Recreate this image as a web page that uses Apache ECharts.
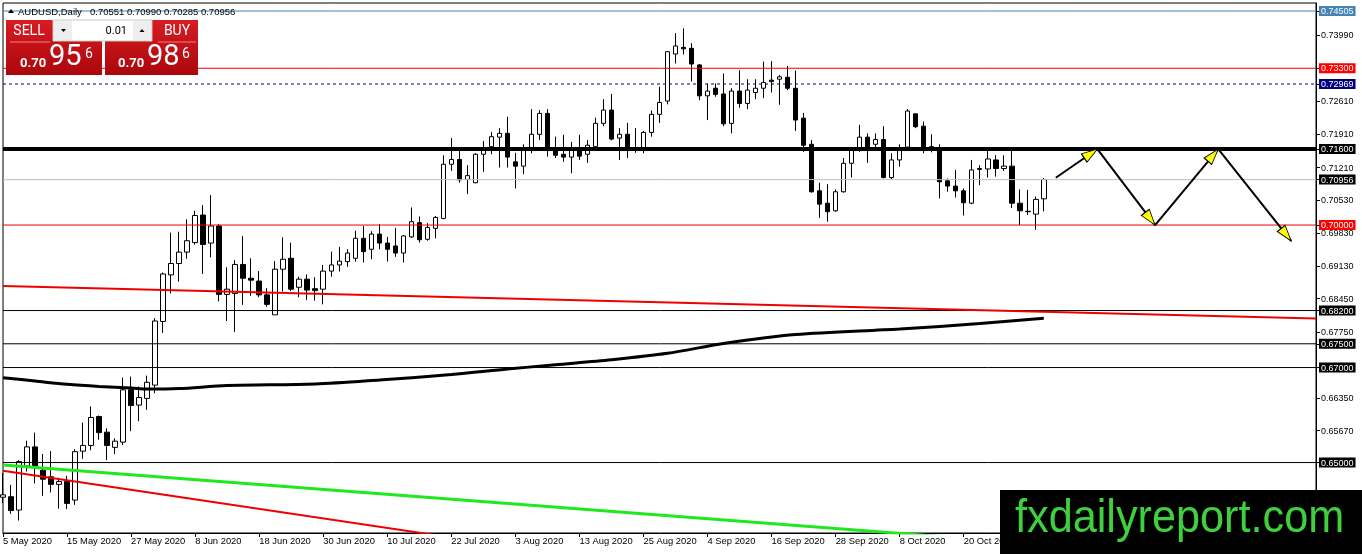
<!DOCTYPE html>
<html><head><meta charset="utf-8">
<script src="https://cdn.jsdelivr.net/npm/echarts@6/dist/echarts.min.js"></script>
<style>html,body{margin:0;padding:0;background:#fff}#c{width:1362px;height:554px}</style>
</head><body><div id="c"></div>
<script>
// ---- trading days (categories) ----
const mayDays=[5,6,7,8,11,12,13,14,15,18,19,20,21,22,25,26,27,28,29];
const junDays=[1,2,3,4,5,8,9,10,11,12,15,16,17,18,19,22,23,24,25,26,29,30];
const julDays=[1,2,3,6,7,8,9,10,13,14,15,16,17,20,21,22,23,24,27,28,29,30,31];
const augDays=[3,4,5,6,7,10,11,12,13,14,17,18,19,20,21,24,25,26,27,28,31];
const sepDays=[1,2,3,4,7,8,9,10,11,14,15,16,17,18,21,22,23,24,25,28,29,30];
const octDays=[1,2,5,6,7,8,9,12,13,14,15,16,19,20,21,22,23,26,27,28,29,30];
const novDays=[2,3,4,5,6,9,10,11,12,13,16,17,18,19,20,23,24,25,26,27,30];
const decDays=[1,2,3,4,7,8,9,10,11,14,15,16,17,18,21];

// ---- OHLC ----
const opens=[0.6427,0.6428,0.6400,0.6493,0.6533,0.6484,0.6470,0.6454,0.6460,0.6421,
0.6524,0.6536,0.6597,0.6564,0.6532,0.6543,0.6653,0.6621,0.6635,0.6663,
0.6797,0.6895,0.6919,0.6943,0.6963,0.7021,0.6962,0.6998,0.6854,0.6856,
0.6917,0.6888,0.6882,0.6853,0.6811,0.6907,0.6930,0.6869,0.6886,0.6866,
0.6865,0.6903,0.6916,0.6923,0.6930,0.6972,0.6949,0.6981,0.6962,0.6956,
0.6941,0.6975,0.7005,0.6970,0.6993,0.7014,0.7128,0.7138,0.7096,0.7089,
0.7149,0.7165,0.7185,0.7193,0.7133,0.7124,0.7158,0.7191,0.7235,0.7156,
0.7149,0.7143,0.7159,0.7149,0.7165,0.7214,0.7242,0.7183,0.7191,0.7163,
0.7163,0.7195,0.7233,0.7261,0.7360,0.7374,0.7372,0.7337,0.7272,0.7288,
0.7276,0.7214,0.7282,0.7256,0.7279,0.7288,0.7305,0.7307,0.7311,0.7288,
0.7225,0.7170,0.7072,0.7046,0.7030,0.7070,0.7130,0.7157,0.7185,0.7170,
0.7180,0.7100,0.7137,0.7164,0.7234,0.7208,0.7165,0.7162,0.7093,0.7082,
0.7072,0.7046,0.7117,0.7118,0.7137,0.7119,0.7124,0.7046,0.7029,0.7023,0.70551];
const highs=[0.6478,0.6453,0.6505,0.6546,0.6563,0.6518,0.6524,0.6468,0.6472,0.6528,
0.6584,0.6618,0.6599,0.6572,0.6551,0.6679,0.6681,0.6660,0.6683,0.6804,
0.6900,0.6984,0.6986,0.7012,0.7030,0.7042,0.7063,0.7002,0.6911,0.6926,
0.6977,0.6930,0.6903,0.6867,0.6924,0.6974,0.6963,0.6891,0.6896,0.6890,
0.6916,0.6944,0.6954,0.6949,0.6988,0.6998,0.6987,0.7002,0.6975,0.6994,
0.6979,0.7037,0.7018,0.7004,0.7019,0.7147,0.7183,0.7158,0.7126,0.7151,
0.7177,0.7196,0.7204,0.7228,0.7152,0.7170,0.7244,0.7242,0.7244,0.7186,
0.7190,0.7175,0.7190,0.7179,0.7226,0.7265,0.7276,0.7204,0.7215,0.7204,
0.7198,0.7241,0.7291,0.7366,0.7404,0.7414,0.7383,0.7339,0.7298,0.7298,
0.7319,0.7288,0.7326,0.7307,0.7307,0.7344,0.7345,0.7316,0.7335,0.7325,
0.7236,0.7179,0.7089,0.7086,0.7075,0.7141,0.7159,0.7211,0.7193,0.7193,
0.7208,0.7151,0.7170,0.7244,0.7235,0.7218,0.7191,0.7170,0.7098,0.7116,
0.7077,0.7137,0.7126,0.7158,0.7147,0.7147,0.7158,0.7075,0.7074,0.7060,0.70990];
const lows=[0.6415,0.6392,0.6378,0.6481,0.6456,0.6430,0.6437,0.6403,0.6402,0.6411,
0.6508,0.6526,0.6548,0.6505,0.6518,0.6537,0.6566,0.6587,0.6611,0.6646,
0.6773,0.6856,0.6881,0.6929,0.6959,0.6897,0.6932,0.6839,0.6798,0.6775,
0.6832,0.6851,0.6848,0.6828,0.6811,0.6860,0.6861,0.6848,0.6842,0.6841,
0.6833,0.6891,0.6902,0.6912,0.6923,0.6921,0.6928,0.6949,0.6923,0.6933,
0.6921,0.6973,0.6963,0.6967,0.6972,0.7012,0.7114,0.7089,0.7065,0.7088,
0.7112,0.7149,0.7121,0.7121,0.7077,0.7107,0.7151,0.7179,0.7144,0.7141,
0.7133,0.7109,0.7137,0.7131,0.7162,0.7208,0.7178,0.7137,0.7141,0.7152,
0.7151,0.7186,0.7215,0.7254,0.7340,0.7359,0.7302,0.7263,0.7221,0.7270,
0.7208,0.7193,0.7247,0.7244,0.7265,0.7267,0.7279,0.7253,0.7284,0.7198,
0.7154,0.7068,0.7015,0.7007,0.7028,0.7068,0.7100,0.7154,0.7131,0.7162,
0.7098,0.7096,0.7123,0.7162,0.7204,0.7151,0.7153,0.7056,0.7070,0.7058,
0.7020,0.7044,0.7084,0.7100,0.7102,0.7114,0.7036,0.7000,0.7021,0.6990,0.70285];
const closes=[0.6432,0.6399,0.6502,0.6533,0.6493,0.6465,0.6454,0.6460,0.6414,0.6523,
0.6536,0.6595,0.6563,0.6536,0.6545,0.6653,0.6620,0.6637,0.6669,0.6798,
0.6897,0.6919,0.6943,0.6967,0.7020,0.6959,0.6998,0.6854,0.6865,0.6917,
0.6888,0.6884,0.6853,0.6833,0.6907,0.6928,0.6865,0.6886,0.6863,0.6862,
0.6903,0.6916,0.6924,0.6941,0.6972,0.6944,0.6981,0.6962,0.6949,0.6941,
0.6977,0.7007,0.6969,0.6995,0.7016,0.7128,0.7138,0.7095,0.7104,0.7149,
0.7158,0.7186,0.7193,0.7143,0.7124,0.7159,0.7191,0.7235,0.7163,0.7147,
0.7143,0.7159,0.7145,0.7168,0.7214,0.7242,0.7181,0.7191,0.7162,0.7162,
0.7195,0.7233,0.7258,0.7365,0.7377,0.7371,0.7339,0.7272,0.7282,0.7275,
0.7213,0.7282,0.7256,0.7284,0.7288,0.7300,0.7302,0.7312,0.7288,0.7221,
0.7168,0.7070,0.7044,0.7028,0.7070,0.7130,0.7157,0.7185,0.7162,0.7180,
0.7100,0.7137,0.7158,0.7240,0.7207,0.7164,0.7163,0.7091,0.7082,0.7072,
0.7047,0.7116,0.7119,0.7139,0.7119,0.7124,0.7046,0.7030,0.7028,0.7054,0.70956];

// ---- moving average (read at sampled bars) ----
const maPoints=[[0,0.66785],[4,0.66716],[8,0.66646],[12,0.66600],[16,0.66568],[18,0.66547],
[22,0.66558],[28,0.66621],[39,0.66652],[47,0.66737],[56,0.66852],[63,0.66968],[69,0.67059],
[76,0.67164],[83,0.67299],[90,0.67505],[99,0.67694],[112,0.67810],[122,0.67926],[130,0.68036]];

// ---- drawn objects (bar index, price) ----
const redTrendUpper=[[0,0.68717],[164,0.68033]];
const redTrendLower=[[0,0.64827],[164,0.60715]];
const greenTrend=[[0,0.64949],[164,0.62841]];
const arrowPath=[[131.5,0.70996],[136.7,0.7160],[143.9,0.7000],[151.8,0.7160],[160.9,0.69664]];
const arrowTips=[[136.7,0.7160],[143.9,0.7000],[151.8,0.7160],[160.9,0.69664]];

// ---- price levels ----
const levelBlue=0.74505, levelRed1=0.733, levelNavy=0.72969, levelThick=0.716,
      levelBid=0.70956, levelRed2=0.70, levelsBlack=[0.682,0.675,0.67,0.65];
const priceTicks=[0.7399,0.7261,0.7191,0.7121,0.7053,0.6983,0.6913,0.6845,0.6775,0.6635,0.6567];
const firstBar=0, lastSlot=164;

// ---- build ----
const monthList=[['May',mayDays],['Jun',junDays],['Jul',julDays],['Aug',augDays],['Sep',sepDays],['Oct',octDays],['Nov',novDays],['Dec',decDays]];
const categories=[];
monthList.forEach(([m,ds])=>ds.forEach(d=>categories.push(d+' '+m+' 2020')));
const candleData=opens.map((o,i)=>[o,closes[i],lows[i],highs[i]]);

const F='"Liberation Sans", Arial, sans-serif';
const boxKey={};
boxKey[levelBlue.toFixed(5)]='sb';boxKey[levelRed1.toFixed(5)]='rd';boxKey[levelNavy.toFixed(5)]='nv';
boxKey[levelThick.toFixed(5)]='bk';boxKey[levelBid.toFixed(5)]='bk';boxKey[levelRed2.toFixed(5)]='rd';
levelsBlack.forEach(v=>boxKey[v.toFixed(5)]='bk');
const labelVals=priceTicks.concat([levelBlue,levelRed1,levelNavy,levelThick,levelBid,levelRed2],levelsBlack);

const boxStyle=(bg)=>({backgroundColor:bg,color:'#fff',fontSize:9,fontFamily:F,padding:[1,2,0,2],lineHeight:9});

const levelSeries=(v,color,width,type,z)=>({
  type:'line',xAxisIndex:1,data:[[firstBar,v],[lastSlot,v]],showSymbol:false,silent:true,z:z||3,
  lineStyle:{color:color,width:width,type:type||'solid'}
});

const chart=echarts.init(document.getElementById('c'),null,{renderer:'canvas',width:1362,height:554});
chart.setOption({
  animation:false,
  backgroundColor:'#ffffff',
  grid:{left:3,right:46,top:3,bottom:21,show:true,borderColor:'#000',borderWidth:1,backgroundColor:'transparent'},
  xAxis:[{
    type:'category',data:categories,boundaryGap:false,
    axisLine:{show:true,onZero:false,lineStyle:{color:'#000',width:1}},
    axisTick:{show:true,interval:7,length:4,lineStyle:{color:'#000'}},
    axisLabel:{interval:7,align:'left',margin:4,fontSize:9.4,fontFamily:F,color:'#000'},
    splitLine:{show:false}
  },{
    type:'value',min:0,max:164,show:false,axisLine:{onZero:false}
  }],
  yAxis:{
    type:'value',position:'right',min:0.63517,max:0.74674,
    splitLine:{show:false},
    axisLine:{show:true,onZero:false,lineStyle:{color:'#000',width:1}},
    axisTick:{show:true,length:4,customValues:labelVals,lineStyle:{color:'#000'}},
    axisLabel:{
      customValues:labelVals,margin:3,
      formatter:(v)=>{const k=v.toFixed(5);const s=boxKey[k];return '{'+(s||'pl')+'|'+k+'}';},
      rich:{
        pl:{color:'#000',fontSize:9,fontFamily:F,padding:[1,2,0,2],lineHeight:9},
        sb:boxStyle('#4682b4'),rd:boxStyle('#ff0000'),nv:boxStyle('#000080'),bk:boxStyle('#000000')
      }
    }
  },
  series:[
    {
      type:'candlestick',name:'AUDUSD',data:candleData,barWidth:5,silent:true,z:2,
      itemStyle:{color:'#ffffff',color0:'#000000',borderColor:'#000000',borderColor0:'#000000',borderColorDoji:'#000000',borderWidth:1}
    },
    levelSeries(levelBlue,'#4682b4',1),
    levelSeries(levelRed1,'#ee0000',1),
    levelSeries(levelNavy,'#000080',1,[3,3]),
    levelSeries(levelBid,'#c0c0c0',1),
    levelSeries(levelRed2,'#ee0000',1),
    ...levelsBlack.map(v=>levelSeries(v,'#000000',1)),
    levelSeries(levelThick,'#000000',4,'solid',4),
    {type:'line',xAxisIndex:1,data:redTrendUpper,showSymbol:false,silent:true,z:3,lineStyle:{color:'#ee0000',width:2}},
    {type:'line',xAxisIndex:1,data:redTrendLower,showSymbol:false,silent:true,z:3,lineStyle:{color:'#ee0000',width:2}},
    {type:'line',xAxisIndex:1,data:greenTrend,showSymbol:false,silent:true,z:3,lineStyle:{color:'#1fe81f',width:3}},
    {type:'line',xAxisIndex:1,data:maPoints,smooth:0.3,showSymbol:false,silent:true,z:4,lineStyle:{color:'#000',width:3}},
    {type:'line',xAxisIndex:1,data:arrowPath,showSymbol:false,silent:true,z:5,lineStyle:{color:'#000',width:2}},
    {type:'scatter',xAxisIndex:1,silent:true,z:6,
      symbol:'path://M5 0 L10 16 L0 16 Z',symbolSize:[10,16],
      itemStyle:{color:'#ffff00',borderColor:'#000',borderWidth:1,opacity:1},
      data:arrowTips.map((p,i)=>({value:p,
        symbolRotate:[-55.7,-142.5,-40.5,-141.5][i],
        symbolOffset:[[-6.6,4.5],[-4.9,-6.3],[-5.2,6.1],[-5.0,-6.3]][i]}))
    }
  ],
  graphic:[
    // title
    {type:'polygon',z:100,shape:{points:[[8,13],[11,9],[14,13]]},style:{fill:'#000'}},
    {type:'text',z:100,x:18,y:12,style:{text:'AUDUSD,Daily',fontSize:9.5,fontFamily:F,fill:'#000',verticalAlign:'middle'}},
    {type:'text',z:100,x:90,y:12,style:{text:'0.70551 0.70990 0.70285 0.70956',fontSize:9.5,fontFamily:F,fill:'#000',verticalAlign:'middle'}},
    // SELL panel
    {type:'rect',z:100,shape:{x:6,y:20,width:96,height:55},style:{fill:new echarts.graphic.LinearGradient(0,0,0,1,[{offset:0,color:'#d81c22'},{offset:1,color:'#a9070c'}])}},
    {type:'line',z:101,shape:{x1:10,y1:42,x2:50,y2:42},style:{stroke:'#f08080',lineWidth:1}},
    {type:'text',z:101,x:29,y:31,style:{text:'SELL',fontSize:14,fontFamily:'Roboto',fill:'#fff',align:'center',verticalAlign:'middle'}},
    {type:'text',z:101,x:20,y:64,style:{text:'0.70',fontSize:13,fontWeight:'bold',fontFamily:'Roboto',fill:'#fff',verticalAlign:'middle'}},
    {type:'text',z:101,x:49,y:58,style:{text:'95',fontSize:29,fontFamily:'Roboto',fill:'#fff',verticalAlign:'middle'}},
    {type:'text',z:101,x:85,y:54,style:{text:'6',fontSize:14,fontFamily:'Roboto',fill:'#fff',verticalAlign:'middle'}},
    // BUY panel
    {type:'rect',z:100,shape:{x:105,y:20,width:93,height:55},style:{fill:new echarts.graphic.LinearGradient(0,0,0,1,[{offset:0,color:'#d81c22'},{offset:1,color:'#a9070c'}])}},
    {type:'line',z:101,shape:{x1:158,y1:42,x2:196,y2:42},style:{stroke:'#f08080',lineWidth:1}},
    {type:'text',z:101,x:177,y:31,style:{text:'BUY',fontSize:14,fontFamily:'Roboto',fill:'#fff',align:'center',verticalAlign:'middle'}},
    {type:'text',z:101,x:118,y:64,style:{text:'0.70',fontSize:13,fontWeight:'bold',fontFamily:'Roboto',fill:'#fff',verticalAlign:'middle'}},
    {type:'text',z:101,x:147,y:58,style:{text:'98',fontSize:29,fontFamily:'Roboto',fill:'#fff',verticalAlign:'middle'}},
    {type:'text',z:101,x:182,y:54,style:{text:'6',fontSize:14,fontFamily:'Roboto',fill:'#fff',verticalAlign:'middle'}},
    // lot widget
    {type:'rect',z:102,shape:{x:53,y:20,width:99,height:21},style:{fill:'#ffffff',stroke:'#c8c8c8',lineWidth:1}},
    {type:'rect',z:103,shape:{x:54,y:21,width:18,height:19},style:{fill:'#eeeeee'}},
    {type:'rect',z:103,shape:{x:133,y:21,width:18,height:19},style:{fill:'#eeeeee'}},
    {type:'polygon',z:104,shape:{points:[[61,29],[66,29],[63.5,32]]},style:{fill:'#000'}},
    {type:'polygon',z:104,shape:{points:[[139.5,32],[144.5,32],[142,29]]},style:{fill:'#000'}},
    {type:'text',z:104,x:127,y:31,style:{text:'0.01',fontSize:11,fontFamily:'Roboto',fill:'#000',align:'right',verticalAlign:'middle'}},
    // watermark
    {type:'rect',z:110,shape:{x:1000,y:490,width:362,height:64},style:{fill:'#000'}},
    {type:'text',z:111,x:1015,y:519,scaleX:0.92,style:{text:'fxdailyreport.com',fontSize:47,fontFamily:F,fill:'#3ed13e',verticalAlign:'middle'}}
  ]
});
</script></body></html>
